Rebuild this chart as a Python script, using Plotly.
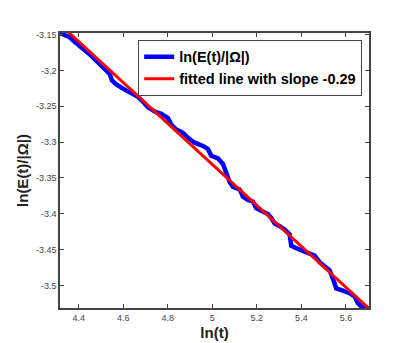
import numpy as np
import plotly.graph_objects as go

# ln(t) and ln(E(t)/|Omega|)
ln_t = [4.3147, 4.3596, 4.382, 4.4045, 4.427, 4.4566, 4.4866, 4.5167, 4.539, 4.5495,
        4.5688, 4.5989, 4.629, 4.6662, 4.6963, 4.7111, 4.7412, 4.7708, 4.8009, 4.8157,
        4.8382, 4.8682, 4.8907, 4.9208, 4.958, 4.9805, 4.9953, 5.0254, 5.0478, 5.0626,
        5.0779, 5.0927, 5.1228, 5.1376, 5.1601, 5.1825, 5.1973, 5.2198, 5.2498, 5.2647,
        5.2799, 5.3024, 5.3248, 5.3472, 5.3544, 5.3769, 5.4069, 5.437, 5.4595, 5.4819,
        5.5044, 5.5268, 5.5416, 5.5565, 5.5865, 5.6166, 5.6391, 5.6539, 5.6687, 5.6912,
        5.7037]
ln_e = [-3.1477, -3.1536, -3.160, -3.1659, -3.1706, -3.1796, -3.1888, -3.198, -3.2048, -3.2139,
        -3.2194, -3.2254, -3.2309, -3.2368, -3.246, -3.2514, -3.2573, -3.2605, -3.2665, -3.2756,
        -3.2824, -3.2871, -3.2939, -3.3008, -3.3053, -3.3098, -3.319, -3.3227, -3.3304, -3.3441,
        -3.3556, -3.3625, -3.366, -3.3762, -3.3807, -3.383, -3.3921, -3.3958, -3.4003, -3.4058,
        -3.4136, -3.4173, -3.4218, -3.4287, -3.4447, -3.4479, -3.4516, -3.4551, -3.4584, -3.4675,
        -3.4743, -3.479, -3.4904, -3.5041, -3.5072, -3.5109, -3.5155, -3.5247, -3.5292, -3.5305,
        -3.5322]

# fitted line
slope = -0.2857
intercept = -1.9026
fit_x = np.array([4.3147, 5.7037])
fit_y = intercept + slope * fit_x

x_ticks = [4.4, 4.6, 4.8, 5.0, 5.2, 5.4, 5.6]
x_tick_text = ["4.4", "4.6", "4.8", "5", "5.2", "5.4", "5.6"]
y_ticks = [-3.15, -3.2, -3.25, -3.3, -3.35, -3.4, -3.45, -3.5]
y_tick_text = ["-3.15", "-3.2", "-3.25", "-3.3", "-3.35", "-3.4", "-3.45", "-3.5"]

fig = go.Figure()
fig.add_trace(go.Scatter(x=ln_t, y=ln_e, mode="lines",
                         line=dict(color="#0000FF", width=4.5),
                         name="<b>ln(E(t)/|Ω|)</b>"))
fig.add_trace(go.Scatter(x=fit_x, y=fit_y, mode="lines",
                         line=dict(color="#FF0000", width=3),
                         name="<b>fitted line with slope -0.29</b>"))

axis_style = dict(showline=True, linecolor="#444444", linewidth=1.5, mirror="ticks",
                  ticks="inside", ticklen=4, tickcolor="#444444", showgrid=False,
                  zeroline=False, tickfont=dict(family="Liberation Sans, Arial", size=9, color="#444444"))

fig.update_xaxes(range=[4.316, 5.7037], tickvals=x_ticks, ticktext=x_tick_text,
                 title=dict(text="<b>ln(t)</b>", standoff=6,
                            font=dict(family="Liberation Sans, Arial", size=15, color="#222222")),
                 **axis_style)
fig.update_yaxes(range=[-3.5315, -3.1477], tickvals=y_ticks, ticktext=y_tick_text,
                 title=dict(text="<b>ln(E(t)/|Ω|)</b>", standoff=4,
                            font=dict(family="Liberation Sans, Arial", size=15, color="#222222")),
                 **axis_style)

fig.update_layout(
    width=399, height=343,
    margin=dict(l=52, r=38, t=25, b=38),
    plot_bgcolor="white", paper_bgcolor="white",
    legend=dict(x=0.253, y=0.975, xanchor="left", yanchor="top",
                bgcolor="white", bordercolor="#444444", borderwidth=1,
                font=dict(family="Liberation Sans, Arial", size=14.5, color="#000000"),
                tracegroupgap=0, itemwidth=30),
    showlegend=True,
)

fig.write_html("out.html")
